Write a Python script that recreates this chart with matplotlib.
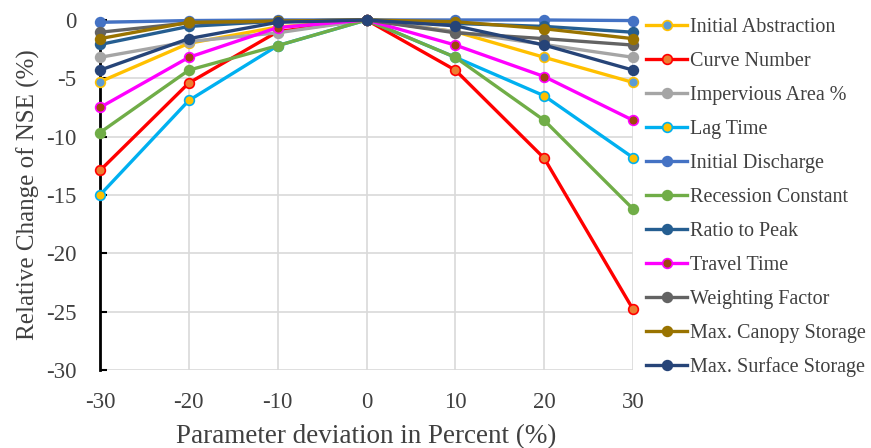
import matplotlib
matplotlib.use("Agg")
import matplotlib.pyplot as plt

# parameter deviation (%)
deviation = [-30, -20, -10, 0, 10, 20, 30]

# relative change of NSE (%) per parameter
initial_abstraction = [-5.3, -2.0, -0.6, 0, -1.0, -3.2, -5.35]
curve_number = [-12.9, -5.4, -1.0, 0, -4.3, -11.85, -24.8]
impervious_area = [-3.2, -1.85, -1.1, 0, -1.0, -2.1, -3.2]
lag_time = [-15.0, -6.9, -2.2, 0, -3.2, -6.5, -11.8]
initial_discharge = [-0.2, -0.05, 0.0, 0, 0.0, 0.0, -0.05]
recession_constant = [-9.65, -4.3, -2.2, 0, -3.2, -8.6, -16.2]
ratio_to_peak = [-2.1, -0.55, -0.1, 0, -0.3, -0.55, -1.05]
travel_time = [-7.5, -3.2, -0.65, 0, -2.15, -4.85, -8.6]
weighting_factor = [-1.05, -0.25, -0.1, 0, -1.1, -1.6, -2.15]
max_canopy = [-1.6, -0.2, -0.1, 0, -0.15, -0.75, -1.6]
max_surface = [-4.3, -1.6, -0.2, 0, -0.5, -2.15, -4.3]

series = [
    ("Initial Abstraction", initial_abstraction, "#FFC000", "#5B9BD5"),
    ("Curve Number", curve_number, "#FF0000", "#ED7D31"),
    ("Impervious Area %", impervious_area, "#A5A5A5", "#A5A5A5"),
    ("Lag Time", lag_time, "#00B0F0", "#FFC000"),
    ("Initial Discharge", initial_discharge, "#4472C4", "#4472C4"),
    ("Recession Constant", recession_constant, "#70AD47", "#70AD47"),
    ("Ratio to Peak", ratio_to_peak, "#255E91", "#255E91"),
    ("Travel Time", travel_time, "#FF00FF", "#9E480E"),
    ("Weighting Factor", weighting_factor, "#636363", "#636363"),
    ("Max. Canopy Storage", max_canopy, "#997300", "#997300"),
    ("Max. Surface Storage", max_surface, "#264478", "#264478"),
]

plt.rcParams['font.family'] = ['Liberation Serif', 'DejaVu Serif']
plt.rcParams['axes.unicode_minus'] = False

fig = plt.figure(figsize=(8.71, 4.48), dpi=100)
ax = fig.add_axes([0.1148, 0.1741, 0.6120, 0.7813])

for name, vals, line_c, face_c in series:
    ax.plot(deviation, vals, color=line_c, lw=2.4, marker='o', ms=7,
            markerfacecolor=face_c, markeredgecolor=line_c, markeredgewidth=1.2,
            label=name, clip_on=False, zorder=3)

ax.set_xlim(-30, 30)
ax.set_ylim(-30, 0)
ax.set_xticks(deviation)
ax.set_yticks(range(-30, 1, 5))
ax.grid(True, color='#D9D9D9', lw=1.2)
ax.set_axisbelow(True)
for s in ['top', 'right', 'bottom']:
    ax.spines[s].set_visible(False)
ax.spines['left'].set_linewidth(2)
ax.spines['left'].set_color('black')
ax.tick_params(axis='y', direction='in', length=5, width=1.5, labelsize=16.5,
               labelcolor='#404040', pad=17)
ax.tick_params(axis='x', length=0, labelsize=16.5, labelcolor='#404040', pad=16)

ax.set_xlabel("Parameter deviation in Percent (%)", fontsize=19.5, color='#404040', labelpad=8)
ax.set_ylabel("Relative Change of NSE (%)", fontsize=18, color='#404040', labelpad=4)

ax.legend(loc='upper left', bbox_to_anchor=(1.01, 1.03), frameon=False,
          fontsize=14.5, handlelength=2.0, handletextpad=0.15, labelspacing=0.74,
          borderaxespad=0, labelcolor='#404040')

fig.savefig("out.png", dpi=100)
